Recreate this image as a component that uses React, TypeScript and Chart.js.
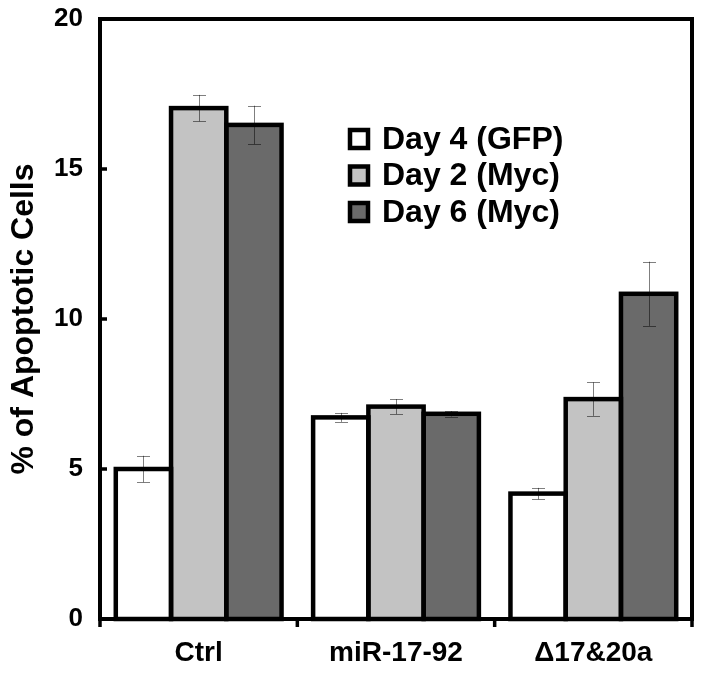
import { useEffect, useRef } from 'react';
import { Chart, registerables } from 'chart.js';

Chart.register(...registerables);

const categories = ['Ctrl', 'miR-17-92', '\u039417&20a'];
const seriesLabels = ['Day 4 (GFP)', 'Day 2 (Myc)', 'Day 6 (Myc)'];
const seriesColors = ['#ffffff', '#c3c3c3', '#6a6a6a'];
const day4GFP = [5.0, 6.72, 4.18];
const day2Myc = [17.03, 7.08, 7.33];
const day6Myc = [16.47, 6.84, 10.84];
const day4GFPErr = [0.44, 0.15, 0.19];
const day2MycErr = [0.44, 0.25, 0.56];
const day6MycErr = [0.64, 0.09, 1.07];
const yTicks = [0, 5, 10, 15, 20];
const yTitle = '% of Apoptotic Cells';

const FONT = '"Liberation Sans", Arial, Helvetica, sans-serif';

const errors = [day4GFPErr, day2MycErr, day6MycErr];

const decorPlugin = {
  id: 'decor',
  afterDatasetsDraw(chart: any) {
    const ctx = chart.ctx as CanvasRenderingContext2D;
    const { left, right, top, bottom } = chart.chartArea;
    const yScale = chart.scales.y;
    const xScale = chart.scales.x;

    // bar outlines (centered on the bar edges)
    chart.data.datasets.forEach((_ds: any, i: number) => {
      const meta = chart.getDatasetMeta(i);
      meta.data.forEach((bar: any) => {
        const { x, y, base, width } = bar.getProps(['x', 'y', 'base', 'width'], true);
        ctx.save();
        ctx.strokeStyle = '#000';
        ctx.lineWidth = 4.5;
        ctx.lineJoin = 'miter';
        ctx.strokeRect(x - width / 2, y, width, base - y);
        ctx.restore();
      });
    });

    // error bars
    chart.data.datasets.forEach((ds: any, i: number) => {
      const meta = chart.getDatasetMeta(i);
      meta.data.forEach((bar: any, j: number) => {
        const v = ds.data[j];
        const e = errors[i][j];
        const { x } = bar.getProps(['x'], true);
        const yHi = yScale.getPixelForValue(v + e);
        const yLo = yScale.getPixelForValue(v - e);
        const cx = Math.round(x) + 0.5;
        ctx.save();
        ctx.strokeStyle = 'rgba(0,0,0,0.5)';
        ctx.lineWidth = 1;
        ctx.beginPath();
        ctx.moveTo(cx, yHi);
        ctx.lineTo(cx, yLo);
        ctx.moveTo(cx - 6.5, Math.round(yHi) + 0.5);
        ctx.lineTo(cx + 6.5, Math.round(yHi) + 0.5);
        ctx.moveTo(cx - 6.5, Math.round(yLo) + 0.5);
        ctx.lineTo(cx + 6.5, Math.round(yLo) + 0.5);
        ctx.stroke();
        ctx.restore();
      });
    });

    // frame
    ctx.save();
    ctx.strokeStyle = '#000';
    ctx.lineWidth = 4;
    ctx.lineJoin = 'miter';
    ctx.strokeRect(left, top, right - left, bottom - top);

    // y ticks (inward)
    ctx.lineWidth = 3.5;
    ctx.beginPath();
    yTicks.forEach((t) => {
      const py = yScale.getPixelForValue(t);
      ctx.moveTo(left, py);
      ctx.lineTo(left + 7, py);
    });
    // x ticks (outward, at category boundaries)
    const n = categories.length;
    const half = (xScale.getPixelForValue(1) - xScale.getPixelForValue(0)) / 2;
    for (let i = 0; i <= n; i++) {
      const px = i < n ? xScale.getPixelForValue(i) - half : xScale.getPixelForValue(n - 1) + half;
      ctx.moveTo(px, bottom);
      ctx.lineTo(px, bottom + 8);
    }
    ctx.stroke();
    ctx.restore();
  },
  afterDraw(chart: any) {
    const ctx = chart.ctx as CanvasRenderingContext2D;
    const bx = 350;
    const by0 = 139;
    const step = 36.5;
    const size = 18;
    chart.data.datasets.forEach((ds: any, i: number) => {
      const cy = by0 + i * step;
      ctx.save();
      ctx.fillStyle = ds.backgroundColor;
      ctx.fillRect(bx, cy - size / 2, size, size);
      ctx.strokeStyle = '#000';
      ctx.lineWidth = 4.5;
      ctx.strokeRect(bx, cy - size / 2, size, size);
      ctx.fillStyle = '#000';
      ctx.font = `bold 32px ${FONT}`;
      ctx.textBaseline = 'middle';
      ctx.textAlign = 'left';
      ctx.fillText(ds.label, 382, cy + 1);
      ctx.restore();
    });
  },
};

export default function App() {
  const ref = useRef<HTMLCanvasElement | null>(null);

  useEffect(() => {
    document.body.style.margin = '0';
    const canvas = ref.current;
    if (!canvas) return;
    const chart = new Chart(canvas, {
      type: 'bar',
      data: {
        labels: categories,
        datasets: [
          { label: seriesLabels[0], data: day4GFP, backgroundColor: seriesColors[0] },
          { label: seriesLabels[1], data: day2Myc, backgroundColor: seriesColors[1] },
          { label: seriesLabels[2], data: day6Myc, backgroundColor: seriesColors[2] },
        ],
      },
      options: {
        responsive: false,
        animation: false,
        devicePixelRatio: 1,
        layout: { padding: { top: 19, right: 12, left: 0, bottom: 0 } },
        datasets: {
          bar: {
            categoryPercentage: 0.84,
            barPercentage: 1,
            borderWidth: 0,
          },
        },
        plugins: {
          legend: { display: false },
          tooltip: { enabled: false },
        },
        scales: {
          x: {
            offset: true,
            grid: { display: false, drawTicks: false },
            border: { display: false },
            ticks: {
              color: '#000',
              padding: 17,
              font: { family: FONT, size: 28, weight: 'bold' },
            },
            afterFit: (s: any) => {
              s.height = 56;
              s.paddingLeft = 0;
              s.paddingRight = 0;
            },
          },
          y: {
            min: 0,
            max: 20,
            grid: { display: false, drawTicks: false },
            border: { display: false },
            ticks: {
              stepSize: 5,
              color: '#000',
              padding: 17,
              font: { family: FONT, size: 26, weight: 'bold' },
            },
            title: {
              display: true,
              text: yTitle,
              color: '#000',
              padding: { top: 5, bottom: 0 },
              font: { family: FONT, size: 32, weight: 'bold' },
            },
            afterFit: (s: any) => {
              s.width = 100;
              s.paddingTop = 0;
              s.paddingBottom = 0;
            },
          },
        },
      },
      plugins: [decorPlugin],
    } as any);
    return () => chart.destroy();
  }, []);

  return (
    <div style={{ width: 704, height: 675 }}>
      <canvas ref={ref} width={704} height={675} style={{ display: 'block' }} />
    </div>
  );
}
